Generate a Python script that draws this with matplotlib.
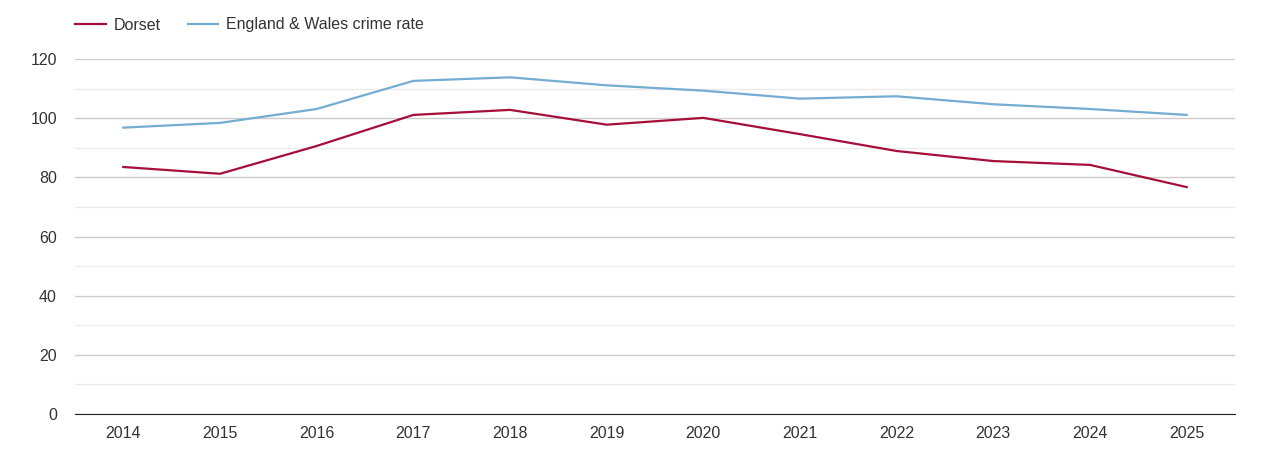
import matplotlib.pyplot as plt
from matplotlib.lines import Line2D

years = ['2014', '2015', '2016', '2017', '2018', '2019', '2020', '2021', '2022', '2023', '2024', '2025']
dorset = [83.5, 81.2, 90.6, 101.1, 102.8, 97.8, 100.1, 94.6, 88.9, 85.5, 84.2, 76.7]
england_wales = [96.8, 98.4, 103.1, 112.6, 113.8, 111.1, 109.3, 106.6, 107.4, 104.7, 103.1, 101.1]

DORSET_COLOR = '#a50f3a'
EW_COLOR = '#74add1'
TEXT_COLOR = '#333333'

plt.rcParams['font.family'] = ['Liberation Sans', 'DejaVu Sans']

fig = plt.figure(figsize=(12.7, 4.5), dpi=100)
ax = fig.add_axes([75 / 1270, 36 / 450, 1160 / 1270, 355 / 450])

x = list(range(len(years)))
ax.plot(x, england_wales, color=EW_COLOR, lw=1.6, label='England & Wales crime rate')
ax.plot(x, dorset, color=DORSET_COLOR, lw=1.6, label='Dorset')

ax.set_xlim(-0.5, len(years) - 0.5)
ax.set_ylim(0, 120)
ax.set_xticks(x)
ax.set_xticklabels(years)
ax.set_yticks(range(0, 121, 20))
ax.set_yticks(range(10, 120, 20), minor=True)
ax.grid(axis='y', which='major', color='#cccccc', lw=1)
ax.grid(axis='y', which='minor', color='#ebebeb', lw=1)
ax.set_axisbelow(True)
for s in ['top', 'right', 'left']:
    ax.spines[s].set_visible(False)
ax.spines['bottom'].set_color('#222222')
ax.tick_params(axis='both', which='both', length=0, labelsize=11.5, colors=TEXT_COLOR)
ax.tick_params(axis='x', pad=9)
ax.tick_params(axis='y', pad=13)

handles = [Line2D([], [], color=DORSET_COLOR, lw=1.6),
           Line2D([], [], color=EW_COLOR, lw=1.6)]
fig.legend(handles, ['Dorset', 'England & Wales crime rate'], loc='center left',
           bbox_to_anchor=(61 / 1270, 1 - 25 / 450), ncol=2, frameon=False,
           fontsize=11.5, labelcolor=TEXT_COLOR, handlelength=1.9, handletextpad=0.5,
           columnspacing=1.7)

fig.savefig('out.png', dpi=100)
